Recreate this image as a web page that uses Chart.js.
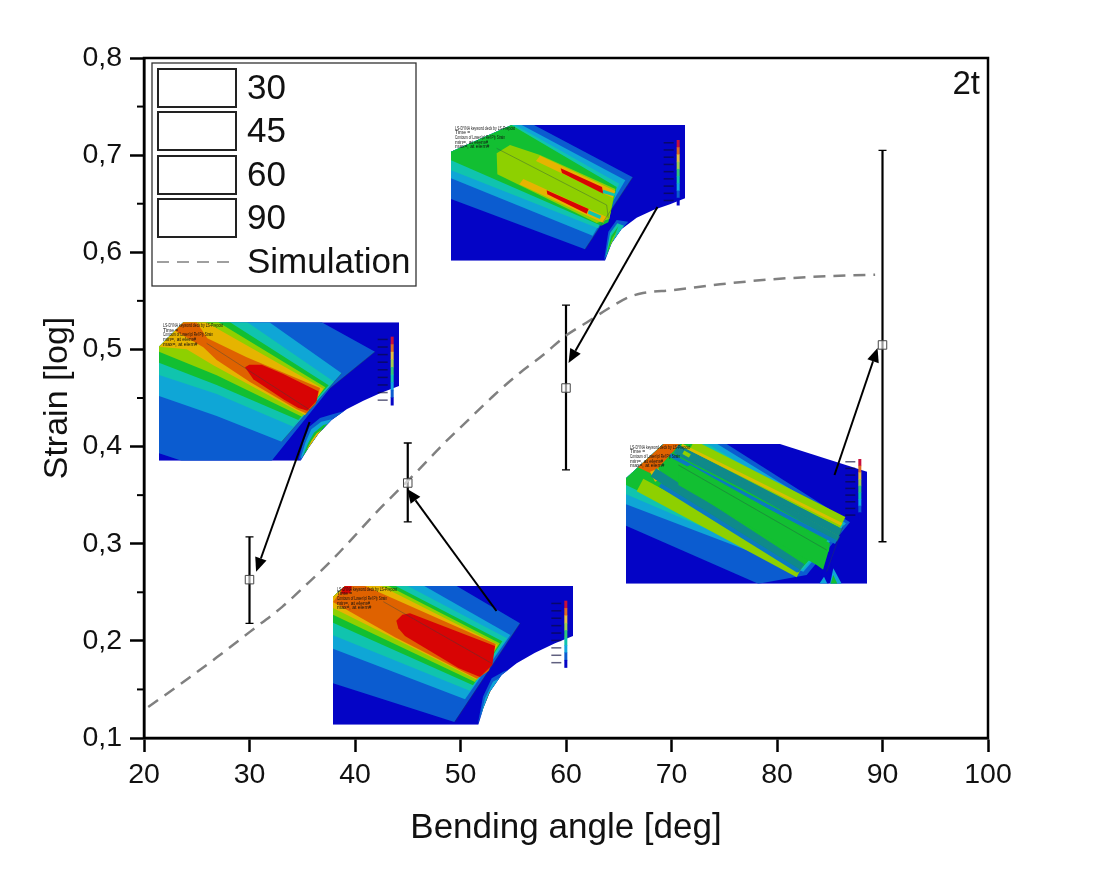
<!DOCTYPE html>
<html>
<head>
<meta charset="utf-8">
<title>Strain vs bending angle</title>
<script src="https://cdn.jsdelivr.net/npm/chart.js@4"></script>
<style>
    html, body { margin: 0; background: #fff; }
    canvas { display: block; }
</style>
</head>
<body>
<canvas id="myChart" width="1098" height="869"></canvas>
<script>
// values
const categories = ['30', '45', '60', '90']
const angles = [30, 45, 60, 90]
const strainMean = [0.263, 0.3625, 0.4603, 0.5046]
const strainUpper = [0.307, 0.4037, 0.5457, 0.705]
const strainLower = [0.218, 0.3224, 0.376, 0.302]

const simAngles = [20.4, 23.4, 26.9, 30, 33.1, 35.4, 37.8, 39.8, 42, 46.3, 48.5, 50.7, 53, 55.3, 57.8, 60.1, 62, 64.3, 66, 67.3, 70.1, 74.6, 79.3, 84, 89.3]
const simStrain = [0.132, 0.155, 0.183, 0.209, 0.235, 0.258, 0.283, 0.306, 0.332, 0.379, 0.404, 0.427, 0.451, 0.473, 0.494, 0.515, 0.528, 0.544, 0.554, 0.558, 0.561, 0.567, 0.572, 0.575, 0.577]

const yMinorTicks = [0.15, 0.25, 0.35, 0.45, 0.55, 0.65, 0.75]
const FONT = '"Liberation Sans", Arial, sans-serif'

// arrows from the simulation pictures to the measured points, in axis units
const arrowStart = [[35.69, 0.4253], [53.41, 0.2307], [68.67, 0.6466], [85.45, 0.3707]]
const arrowTip = [[30.63, 0.2712], [44.95, 0.3563], [60.24, 0.486], [89.53, 0.5015]]

const DARK = '#0404c6', BLUE = '#0b5cd0', CYAN = '#0fa6d6', TEAL = '#10c4ae', GREEN = '#12bf32'
const LIME = '#8ed000', GOLD = '#e6b400', ORANGE = '#df6200', RED = '#d80404'

// simulation contour pictures, coordinates are in 3x crop pixels of each picture
const insets = [
    {
        ox: 150, oy: 310, box: [27, 37, 747, 452],
        outline: [27, 110, 100, 37, 747, 37, 747, 228, 690, 250, 640, 272, 590, 298, 545, 330, 505, 372, 475, 415, 452, 452, 27, 452],
        layers: [
            [DARK, 27, 37, 747, 37, 747, 452, 27, 452],
            [BLUE, 27, 37, 515, 37, 675, 125, 540, 235, 365, 452, 95, 452, 27, 430],
            [CYAN, 27, 37, 358, 37, 575, 190, 395, 395, 200, 318, 27, 258],
            [TEAL, 27, 37, 292, 37, 552, 215, 430, 350, 200, 252, 27, 195],
            [GREEN, 27, 37, 240, 37, 536, 226, 445, 330, 200, 225, 27, 158],
            [LIME, 27, 37, 205, 37, 526, 232, 456, 320, 200, 196, 27, 125],
            [GOLD, 27, 110, 100, 37, 168, 37, 520, 236, 466, 316, 190, 166, 110, 118],
            [ORANGE, 75, 62, 100, 37, 140, 37, 172, 85, 290, 142, 510, 234, 497, 282, 468, 310, 440, 298, 300, 216, 200, 150, 160, 112],
            [RED, 285, 172, 298, 164, 335, 164, 400, 192, 505, 244, 500, 272, 472, 302, 445, 294, 400, 268, 310, 208],
            [BLUE, 445, 452, 460, 395, 478, 350, 510, 324, 550, 312, 595, 300, 545, 330, 505, 372, 475, 415],
            [CYAN, 450, 452, 466, 398, 484, 358, 514, 335, 545, 328, 505, 372, 475, 415],
            [GREEN, 458, 440, 474, 400, 492, 368, 520, 345, 532, 342, 505, 372, 475, 415],
            [GOLD, 470, 420, 484, 392, 500, 370, 518, 358, 505, 372, 475, 415]
        ],
        lines: [[170, 100, 480, 300], [575, 190, 395, 395], [675, 125, 540, 235]],
        scale: [722, 80, 285]
    },
    {
        ox: 325, oy: 580, box: [24, 18, 744, 434],
        outline: [24, 50, 60, 18, 744, 18, 744, 168, 690, 190, 630, 218, 575, 250, 530, 285, 495, 335, 475, 385, 460, 434, 24, 434],
        layers: [
            [DARK, 24, 18, 744, 18, 744, 434, 24, 434],
            [BLUE, 24, 18, 395, 18, 585, 130, 545, 190, 388, 426, 24, 310],
            [CYAN, 24, 18, 298, 18, 556, 165, 420, 358, 24, 206],
            [TEAL, 24, 18, 248, 18, 546, 175, 434, 332, 24, 166],
            [GREEN, 24, 18, 212, 18, 532, 184, 444, 316, 24, 128],
            [LIME, 24, 18, 190, 18, 524, 190, 450, 306, 24, 104],
            [GOLD, 24, 18, 168, 18, 518, 194, 456, 299, 24, 84],
            [ORANGE, 24, 66, 60, 18, 120, 18, 512, 192, 492, 272, 456, 296, 210, 172],
            [RED, 214, 122, 232, 104, 255, 100, 510, 198, 502, 255, 465, 291, 400, 264, 240, 168, 220, 145],
            [RED, 48, 18, 80, 18, 76, 40, 50, 42],
            [BLUE, 458, 434, 474, 350, 500, 295, 535, 275, 580, 258, 530, 285, 495, 335, 475, 385],
            [CYAN, 462, 430, 480, 355, 504, 305, 535, 288, 555, 280, 530, 285, 495, 335, 475, 385],
            [GREEN, 470, 405, 486, 355, 508, 318, 535, 290, 495, 335, 475, 385],
            [GOLD, 474, 390, 490, 350, 510, 325, 495, 335],
            [RED, 480, 372, 494, 340, 514, 316, 495, 335]
        ],
        lines: [[175, 65, 500, 250], [585, 130, 390, 425]],
        scale: [718, 62, 262]
    },
    {
        ox: 440, oy: 115, box: [33, 30, 735, 437],
        outline: [33, 110, 215, 30, 735, 30, 735, 250, 690, 268, 640, 285, 590, 308, 545, 342, 515, 385, 495, 437, 33, 437],
        layers: [
            [DARK, 33, 30, 735, 30, 735, 437, 33, 437],
            [BLUE, 33, 30, 282, 30, 578, 187, 435, 403, 33, 252],
            [CYAN, 33, 30, 245, 30, 556, 196, 458, 362, 33, 190],
            [TEAL, 33, 30, 225, 30, 538, 206, 474, 340, 33, 166],
            [GREEN, 33, 30, 214, 30, 530, 216, 505, 322, 484, 332, 33, 136],
            [LIME, 170, 115, 210, 90, 300, 120, 526, 222, 508, 312, 470, 324, 172, 178],
            [GOLD, 300, 122, 526, 228, 518, 248, 288, 138],
            [GOLD, 250, 192, 500, 306, 490, 324, 238, 208],
            [RED, 362, 160, 486, 216, 490, 236, 366, 174],
            [RED, 320, 226, 446, 282, 440, 296, 322, 238],
            [TEAL, 490, 224, 526, 236, 522, 244, 488, 234],
            [TEAL, 446, 286, 484, 302, 480, 312, 444, 296],
            [BLUE, 492, 437, 505, 350, 530, 315, 565, 320, 545, 342, 515, 385],
            [TEAL, 496, 430, 510, 355, 532, 325, 552, 332, 515, 385],
            [GREEN, 500, 418, 514, 362, 535, 334, 515, 385],
            [LIME, 504, 408, 518, 368, 530, 350, 512, 390]
        ],
        lines: [[170, 100, 500, 270], [578, 187, 435, 403], [500, 270, 505, 310]],
        scale: [710, 75, 270]
    },
    {
        ox: 620, oy: 435, box: [18, 27, 741, 446],
        outline: [18, 130, 130, 27, 320, 27, 480, 27, 741, 110, 741, 446, 18, 446],
        layers: [
            [DARK, 18, 27, 741, 27, 741, 446, 18, 446],
            [BLUE, 18, 27, 320, 27, 690, 262, 560, 420, 415, 446, 18, 272],
            [CYAN, 18, 27, 292, 27, 678, 265, 550, 410, 18, 208],
            [TEAL, 18, 27, 262, 27, 672, 268, 548, 404, 18, 178],
            [GREEN, 18, 27, 225, 27, 664, 270, 545, 400, 18, 150],
            [ORANGE, 50, 95, 130, 27, 180, 27, 98, 118],
            [GOLD, 90, 110, 115, 100, 130, 130, 105, 140]
        ],
        strokes: [
            [LIME, 12, 215, 32, 668, 262],
            ['#0f8a8a', 10, 168, 42, 660, 295],
            [LIME, 4, 190, 52, 655, 310],
            ['#0f8a8a', 6, 210, 62, 655, 312],
            ['#0b7ac0', 4, 150, 60, 648, 322],
            [LIME, 14, 60, 150, 540, 408],
            ['#0f8a8a', 10, 100, 112, 545, 400],
            ['#0b7ac0', 4, 120, 150, 535, 408],
            ['#d8c000', 3, 185, 30, 665, 268]
        ],
        extra: [
            [GREEN, 175, 110, 210, 90, 630, 325, 618, 410, 590, 390, 175, 150],
            [DARK, 600, 435, 625, 350, 640, 350, 625, 446],
            [CYAN, 640, 400, 665, 446, 630, 446],
            [GREEN, 640, 420, 652, 446, 632, 446],
            [CYAN, 598, 446, 612, 425, 622, 446]
        ],
        lines: [[175, 90, 620, 345], [670, 270, 620, 410]],
        scale: [715, 72, 252]
    }
]

function tracePts(ctx, inset, pts, start) {
    ctx.beginPath()
    for (let i = start; i < pts.length; i += 2) {
        let px = inset.ox + pts[i] / 3, py = inset.oy + pts[i + 1] / 3
        if (i == start) ctx.moveTo(px, py); else ctx.lineTo(px, py)
    }
    ctx.closePath()
}

function drawInset(ctx, inset) {
    ctx.save()
    tracePts(ctx, inset, inset.outline, 0)
    ctx.clip()
    ctx.filter = 'blur(0.4px)'
    for (let layer of inset.layers) {
        tracePts(ctx, inset, layer, 1)
        ctx.fillStyle = layer[0]
        ctx.fill()
    }
    for (let s of inset.strokes || []) {
        ctx.strokeStyle = s[0]
        ctx.lineWidth = s[1]
        ctx.beginPath()
        ctx.moveTo(inset.ox + s[2] / 3, inset.oy + s[3] / 3)
        ctx.lineTo(inset.ox + s[4] / 3, inset.oy + s[5] / 3)
        ctx.stroke()
    }
    for (let layer of inset.extra || []) {
        tracePts(ctx, inset, layer, 1)
        ctx.fillStyle = layer[0]
        ctx.fill()
    }
    ctx.strokeStyle = 'rgba(40,70,70,0.55)'
    ctx.lineWidth = 0.7
    for (let l of inset.lines) {
        ctx.beginPath()
        ctx.moveTo(inset.ox + l[0] / 3, inset.oy + l[1] / 3)
        ctx.lineTo(inset.ox + l[2] / 3, inset.oy + l[3] / 3)
        ctx.stroke()
    }
    ctx.restore()

    // colour scale
    let barX = inset.ox + inset.scale[0] / 3, barTop = inset.oy + inset.scale[1] / 3, barBottom = inset.oy + inset.scale[2] / 3
    let colours = ['#c80f3c', '#e06a20', '#e6c040', '#a0d050', '#30c878', '#10c4ae', '#12a8e0', '#0b5cd0', '#0404c6']
    let step = (barBottom - barTop) / colours.length
    ctx.save()
    ctx.filter = 'blur(0.3px)'
    colours.forEach((c, i) => {
        ctx.fillStyle = c
        ctx.fillRect(barX, barTop + i * step, 3, step + 0.5)
        ctx.fillStyle = 'rgba(10,10,60,0.65)'
        ctx.fillRect(barX - 13, barTop + i * step + 2, 10, 1.5)
    })
    ctx.restore()

    // header of the LS-DYNA picture
    ctx.save()
    ctx.fillStyle = '#111'
    ctx.font = '5px ' + FONT
    ctx.textBaseline = 'top'
    let tx = inset.ox + inset.box[0] / 3 + 4, ty = inset.oy + inset.box[1] / 3 + 1
    let header = ['LS-DYNA keyword deck by LS-Prepost', 'Time =', 'Contours of Lower Ipl Ref Ply Strain', 'min=, at elem#', 'max=, at elem#']
    let widths = [60, 16, 50, 40, 42]
    header.forEach((line, i) => ctx.fillText(line, tx, ty + i * 4.6, widths[i]))
    ctx.restore()
}

function drawArrow(ctx, x0, y0, x1, y1) {
    let angle = Math.atan2(y1 - y0, x1 - x0)
    let headLength = 14, headHalf = 6
    ctx.strokeStyle = '#000'
    ctx.lineWidth = 2
    ctx.beginPath()
    ctx.moveTo(x0, y0)
    ctx.lineTo(x1 - headLength * Math.cos(angle), y1 - headLength * Math.sin(angle))
    ctx.stroke()
    ctx.fillStyle = '#000'
    ctx.beginPath()
    ctx.moveTo(x1, y1)
    ctx.lineTo(x1 - headLength * Math.cos(angle) + headHalf * Math.sin(angle), y1 - headLength * Math.sin(angle) - headHalf * Math.cos(angle))
    ctx.lineTo(x1 - headLength * Math.cos(angle) - headHalf * Math.sin(angle), y1 - headLength * Math.sin(angle) + headHalf * Math.cos(angle))
    ctx.closePath()
    ctx.fill()
}

const errorBarsPlugin = {
    id: 'errorBars',
    beforeDatasetsDraw(chart) {
        let ctx = chart.ctx, x = chart.scales.x, y = chart.scales.y
        insets.forEach(inset => drawInset(ctx, inset))
        ctx.save()
        ctx.strokeStyle = '#000'
        angles.forEach((a, i) => {
            let px = x.getPixelForValue(a), top = y.getPixelForValue(strainUpper[i]), bottom = y.getPixelForValue(strainLower[i])
            ctx.lineWidth = 2.2
            ctx.beginPath()
            ctx.moveTo(px, top)
            ctx.lineTo(px, bottom)
            ctx.stroke()
            ctx.lineWidth = 1.3
            ctx.beginPath()
            ctx.moveTo(px - 4, top)
            ctx.lineTo(px + 4, top)
            ctx.moveTo(px - 4, bottom)
            ctx.lineTo(px + 4, bottom)
            ctx.stroke()
        })
        ctx.restore()
    },
    afterDatasetsDraw(chart) {
        let ctx = chart.ctx, x = chart.scales.x, y = chart.scales.y, area = chart.chartArea
        ctx.save()
        arrowStart.forEach((s, i) => {
            drawArrow(ctx, x.getPixelForValue(s[0]), y.getPixelForValue(s[1]), x.getPixelForValue(arrowTip[i][0]), y.getPixelForValue(arrowTip[i][1]))
        })

        // frame and minor ticks
        ctx.strokeStyle = '#000'
        ctx.lineWidth = 2.5
        ctx.strokeRect(area.left, area.top, area.right - area.left, area.bottom - area.top)
        ctx.lineWidth = 2
        yMinorTicks.forEach(v => {
            let py = y.getPixelForValue(v)
            ctx.beginPath()
            ctx.moveTo(area.left - 7, py)
            ctx.lineTo(area.left, py)
            ctx.stroke()
        })

        // legend box
        ctx.fillStyle = '#fff'
        ctx.fillRect(152, 63, 264, 223)
        ctx.strokeStyle = '#333'
        ctx.lineWidth = 1.3
        ctx.strokeRect(152, 63, 264, 223)
        ctx.fillStyle = '#111'
        ctx.font = '35px ' + FONT
        ctx.textBaseline = 'middle'
        let boxTop = [69, 112, 156, 199]
        categories.forEach((c, i) => {
            ctx.strokeStyle = '#222'
            ctx.lineWidth = 2
            ctx.strokeRect(158, boxTop[i], 78, 38)
            ctx.fillText(chart.data.datasets[i].label, 247, boxTop[i] + 20)
        })
        ctx.strokeStyle = '#808080'
        ctx.lineWidth = 1.5
        ctx.setLineDash([12, 8])
        ctx.beginPath()
        ctx.moveTo(157, 262)
        ctx.lineTo(232, 262)
        ctx.stroke()
        ctx.setLineDash([])
        ctx.fillStyle = '#111'
        ctx.fillText(chart.data.datasets[4].label, 247, 263)

        // thickness label
        ctx.font = '33px ' + FONT
        ctx.textAlign = 'right'
        ctx.textBaseline = 'alphabetic'
        ctx.fillText('2t', 980, 94)
        ctx.restore()
    }
}

let grafico = document.getElementById('myChart')
let datasets = categories.map((c, i) => ({
    type: 'scatter',
    label: c,
    data: [{ x: angles[i], y: strainMean[i] }],
    pointStyle: 'rect',
    pointRadius: 6,
    pointBorderWidth: 1,
    pointBorderColor: '#444',
    pointBackgroundColor: 'rgba(255,255,255,0.6)'
}))
datasets.push({
    type: 'line',
    label: 'Simulation',
    data: simAngles.map((a, i) => ({ x: a, y: simStrain[i] })),
    borderColor: '#808080',
    borderWidth: 2.5,
    borderDash: [12, 8],
    pointRadius: 0,
    cubicInterpolationMode: 'monotone',
    fill: false
})

let myChart = new Chart(grafico, {
    data: { datasets: datasets },
    plugins: [errorBarsPlugin],
    options: {
        responsive: false,
        animation: false,
        layout: { padding: { left: 0, top: 58, right: 110, bottom: 0 } },
        plugins: { legend: { display: false }, tooltip: { enabled: false } },
        scales: {
            x: {
                type: 'linear',
                min: 20,
                max: 100,
                afterFit: scale => { scale.height = 131 },
                border: { color: '#000', width: 2.5 },
                grid: { drawOnChartArea: false, color: '#000', tickLength: 14, tickWidth: 2.5 },
                ticks: { stepSize: 10, color: '#111', font: { family: FONT, size: 28.5 }, padding: 6, maxRotation: 0 },
                title: { display: true, text: 'Bending angle [deg]', color: '#111', font: { family: FONT, size: 35 }, padding: { top: 8, bottom: 20 } }
            },
            y: {
                min: 0.1,
                max: 0.8,
                afterFit: scale => { scale.width = 144 },
                border: { color: '#000', width: 2.5 },
                grid: { drawOnChartArea: false, color: '#000', tickLength: 14, tickWidth: 2.5 },
                ticks: {
                    stepSize: 0.1,
                    color: '#111',
                    font: { family: FONT, size: 28.5 },
                    padding: 8,
                    callback: v => v.toFixed(1).replace('.', ',')
                },
                title: { display: true, text: 'Strain [log]', color: '#111', font: { family: FONT, size: 34 }, padding: { top: 37, bottom: 10 } }
            }
        }
    }
})
</script>
</body>
</html>
